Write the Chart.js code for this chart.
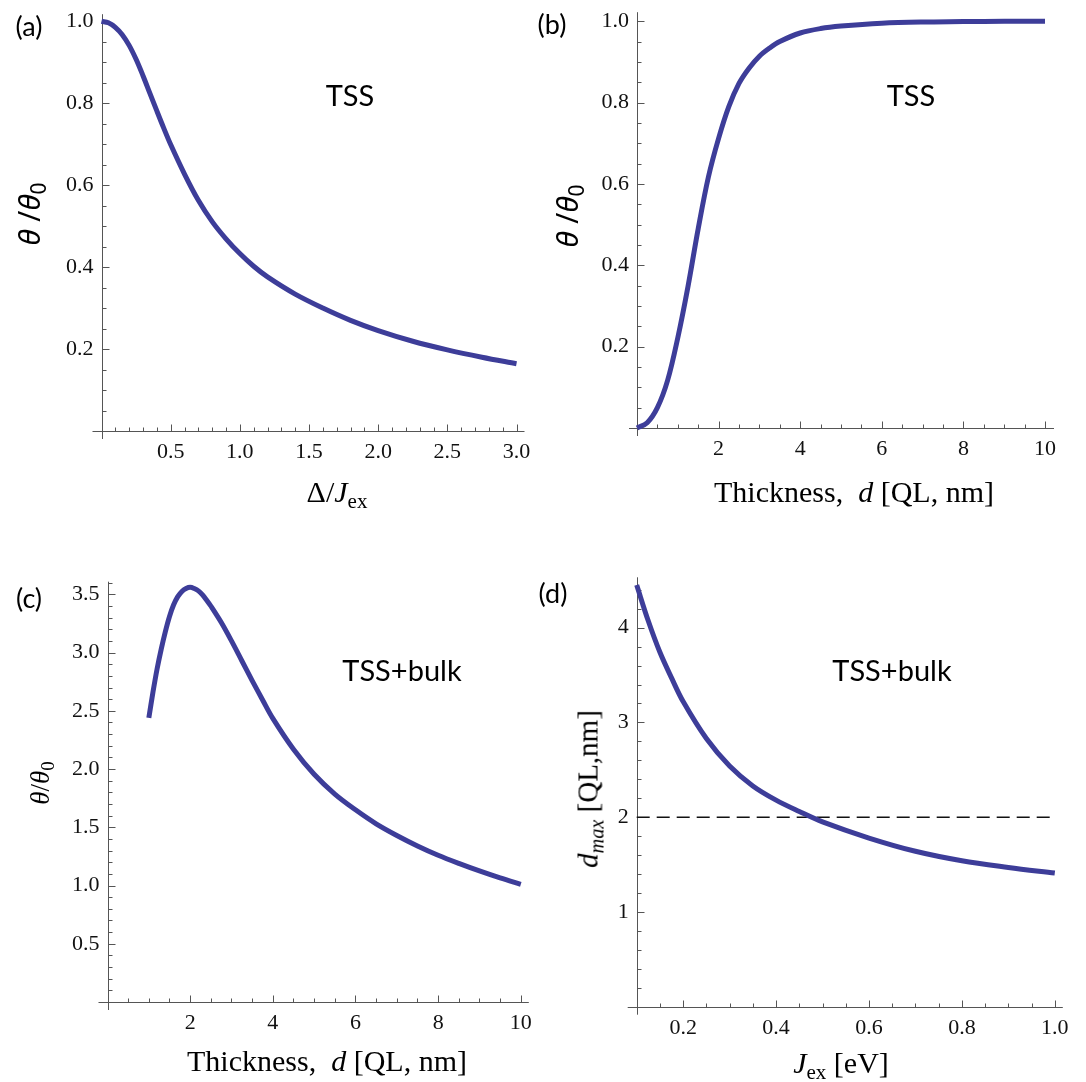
<!DOCTYPE html>
<html><head><meta charset="utf-8">
<script src="https://cdn.jsdelivr.net/npm/chart.js@4.4.0/dist/chart.umd.min.js"></script>
<style>
html,body{margin:0;padding:0;background:#fff;}
#wrap{position:relative;width:1086px;height:1082px;overflow:hidden;background:#fff;}
canvas{position:absolute;left:0;top:0;}
.t{position:absolute;transform:translate(-50%,-50%);white-space:nowrap;color:#000;line-height:1;}
.serif{font-family:"Liberation Serif","Times New Roman",serif;}
.sans{font-family:Lato,"Noto Sans",sans-serif;}
.nsans{font-family:"Noto Sans",sans-serif;}
.rot{transform:translate(-50%,-50%) rotate(-90deg);}
sub{font-size:0.7em;vertical-align:-0.3em;line-height:0;}
</style></head>
<body><div id="wrap">
<canvas id="ca" width="1086" height="1082"></canvas>
<canvas id="cb" width="1086" height="1082"></canvas>
<canvas id="cc" width="1086" height="1082"></canvas>
<canvas id="cd" width="1086" height="1082"></canvas>

<div class="t sans" style="left:29px;top:25px;font-size:27px;">(a)</div>
<div class="t sans" style="left:552px;top:23px;font-size:27px;">(b)</div>
<div class="t sans" style="left:29px;top:597px;font-size:27px;">(c)</div>
<div class="t sans" style="left:553px;top:592px;font-size:27px;">(d)</div>

<div class="t sans" style="left:350px;top:94px;font-size:29px;">TSS</div>
<div class="t sans" style="left:911px;top:94px;font-size:29px;">TSS</div>
<div class="t sans" style="left:402px;top:669px;font-size:29px;">TSS+bulk</div>
<div class="t sans" style="left:892px;top:669px;font-size:29px;">TSS+bulk</div>

<div class="t nsans rot" style="left:29px;top:214px;font-size:30px;"><i>θ</i> /<i>θ</i><sub>0</sub></div>
<div class="t nsans rot" style="left:567px;top:216px;font-size:30px;"><i>θ</i> /<i>θ</i><sub>0</sub></div>
<div class="t serif rot" style="left:40px;top:783px;font-size:27px;"><i>θ</i>/<i>θ</i><sub>0</sub></div>
<div class="t serif rot" style="left:588px;top:789px;font-size:29px;"><i>d<sub>max</sub></i> [QL,nm]</div>

<div class="t serif" style="left:337px;top:492px;font-size:30px;">Δ/<i>J</i><sub>ex</sub></div>
<div class="t serif" style="left:854px;top:492px;font-size:30px;">Thickness,&nbsp; <i>d</i> [QL, nm]</div>
<div class="t serif" style="left:327px;top:1061px;font-size:30px;">Thickness,&nbsp; <i>d</i> [QL, nm]</div>
<div class="t serif" style="left:841px;top:1063px;font-size:30px;"><i>J</i><sub>ex</sub> [eV]</div>
</div>
<script>
// ---- data ----
const aX = [0, 0.05, 0.1, 0.15, 0.2, 0.25, 0.3, 0.35, 0.4, 0.45, 0.5, 0.6, 0.7, 0.8, 0.9, 1.0, 1.1, 1.2, 1.4, 1.6, 1.8, 2.0, 2.25, 2.5, 2.75, 3.0];
const aY = [1.0, 0.996, 0.985, 0.967, 0.941, 0.907, 0.867, 0.824, 0.781, 0.739, 0.699, 0.627, 0.563, 0.511, 0.469, 0.433, 0.402, 0.376, 0.334, 0.300, 0.270, 0.245, 0.219, 0.198, 0.180, 0.164];

const bX = [0, 0.25, 0.5, 0.75, 1.0, 1.25, 1.5, 1.75, 2.0, 2.25, 2.5, 2.75, 3.0, 3.25, 3.5, 4.0, 4.5, 5.0, 6.0, 7.0, 8.0, 9.0, 10.0];
const bY = [0, 0.013, 0.05, 0.117, 0.222, 0.348, 0.49, 0.617, 0.712, 0.79, 0.847, 0.885, 0.914, 0.934, 0.95, 0.971, 0.982, 0.988, 0.995, 0.998, 0.999, 1.0, 1.0];

const cX = [1.0, 1.1, 1.2, 1.3, 1.4, 1.5, 1.6, 1.7, 1.8, 1.9, 2.0, 2.1, 2.2, 2.3, 2.4, 2.5, 2.75, 3.0, 3.25, 3.5, 3.75, 4.0, 4.5, 5.0, 5.5, 6.0, 6.5, 7.0, 7.5, 8.0, 8.5, 9.0, 9.5, 10.0];
const cY = [2.44, 2.66, 2.86, 3.03, 3.18, 3.31, 3.41, 3.48, 3.525, 3.55, 3.56, 3.55, 3.53, 3.495, 3.45, 3.40, 3.26, 3.10, 2.93, 2.76, 2.595, 2.435, 2.17, 1.955, 1.785, 1.65, 1.53, 1.43, 1.34, 1.26, 1.19, 1.125, 1.065, 1.01];

const dX = [0.1, 0.125, 0.15, 0.175, 0.2, 0.25, 0.3, 0.35, 0.4, 0.45, 0.5, 0.6, 0.7, 0.8, 0.9, 1.0];
const dY = [4.45, 4.07, 3.74, 3.47, 3.22, 2.83, 2.54, 2.33, 2.18, 2.06, 1.95, 1.78, 1.64, 1.54, 1.47, 1.41];
const dRefValue = 2;

// tick labels
const aXTicks = [0.5, 1.0, 1.5, 2.0, 2.5, 3.0];
const aYTicks = [0.2, 0.4, 0.6, 0.8, 1.0];
const bXTicks = [2, 4, 6, 8, 10];
const bYTicks = [0.2, 0.4, 0.6, 0.8, 1.0];
const cXTicks = [2, 4, 6, 8, 10];
const cYTicks = [0.5, 1.0, 1.5, 2.0, 2.5, 3.0, 3.5];
const dXTicks = [0.2, 0.4, 0.6, 0.8, 1.0];
const dYTicks = [1, 2, 3, 4];

// ---- styling / layout ----
const W = 1086, H = 1082, YW = 60, XH = 40;
const CURVE = '#3d3d99';
const AXIS = '#555';
const TICKFONT = {family: '"Liberation Serif", "Times New Roman", serif', size: 22};

const axesPlugin = {
  id: 'mmaAxes',
  beforeDatasetsDraw(chart, args, o) {
    const {ctx, chartArea: a, scales: {x, y}} = chart;
    const e = o.ext;
    ctx.save();
    ctx.strokeStyle = AXIS;
    ctx.lineWidth = 1;
    ctx.beginPath();
    const yb = Math.round(a.bottom) + 0.5, xl = Math.round(a.left) + 0.5;
    ctx.moveTo(a.left - e.l, yb); ctx.lineTo(a.right + e.r, yb);
    ctx.moveTo(xl, a.bottom + e.b); ctx.lineTo(xl, a.top - e.t);
    const near = (v, arr) => arr.some(t => Math.abs(t - v) < 1e-6);
    const [x0, x1] = [x.min, x.max];
    for (let k = 1; x0 + k * o.xMinor <= x1 + 1e-9; k++) {
      const v = x0 + k * o.xMinor;
      const len = near(v, o.xt) ? 7 : 4;
      const px = Math.round(x.getPixelForValue(v)) + 0.5;
      ctx.moveTo(px, yb); ctx.lineTo(px, yb - len);
    }
    const [y0, y1] = [y.min, y.max];
    for (let k = 1; y0 + k * o.yMinor <= y1 + 1e-9; k++) {
      const v = y0 + k * o.yMinor;
      const len = near(v, o.yt) ? 7 : 4;
      const py = Math.round(y.getPixelForValue(v)) + 0.5;
      ctx.moveTo(xl, py); ctx.lineTo(xl + len, py);
    }
    ctx.stroke();
    ctx.restore();
  }
};

const panels = [
  {id: 'ca', xs: aX, ys: aY, xr: [0, 3], yr: [0, 1], box: [101.5, 516.5, 15, 431], xt: aXTicks, yt: aYTicks, xd: 1, yd: 1, xMinor: 0.1, yMinor: 0.05, ext: {l: 9, r: 8, t: 7, b: 8}},
  {id: 'cb', xs: bX, ys: bY, xr: [0, 10], yr: [0, 1], box: [637, 1045, 19, 428], xt: bXTicks, yt: bYTicks, xd: 0, yd: 1, xMinor: 0.5, yMinor: 0.05, ext: {l: 8, r: 9, t: 9, b: 8}},
  {id: 'cc', xs: cX, ys: cY, xr: [0, 10], yr: [0, 3.6], box: [107.5, 520.8, 582.7, 1002], xt: cXTicks, yt: cYTicks, xd: 0, yd: 1, xMinor: 0.5, yMinor: 0.1, ext: {l: 9, r: 8, t: 1, b: 8}},
  {id: 'cd', xs: dX, ys: dY, xr: [0.1, 1.0], yr: [0, 4.5], box: [636.7, 1054.8, 580.3, 1006.7], xt: dXTicks, yt: dYTicks, xd: 1, yd: 0, xMinor: 0.05, yMinor: 0.2, ext: {l: 9, r: 8, t: 3, b: 8}, ref: dRefValue}
];

panels.forEach(p => {
  const datasets = [{
    data: p.xs.map((x, i) => ({x, y: p.ys[i]})),
    borderColor: CURVE, borderWidth: 5, pointRadius: 0,
    tension: 0.35, fill: false, clip: false,
    borderCapStyle: 'butt', borderJoinStyle: 'round'
  }];
  if (p.ref !== undefined) {
    datasets.push({
      data: [{x: p.xr[0], y: p.ref}, {x: p.xr[1], y: p.ref}],
      borderColor: '#111', borderWidth: 1.6, borderDash: [13, 7], pointRadius: 0, fill: false, clip: false
    });
  }
  new Chart(document.getElementById(p.id), {
    type: 'line',
    data: {datasets},
    options: {
      responsive: false, animation: false,
      layout: {padding: {left: p.box[0] - YW, right: W - p.box[1], top: p.box[2], bottom: H - p.box[3] - XH}},
      plugins: {legend: {display: false}, tooltip: {enabled: false},
        mmaAxes: {ext: p.ext, xMinor: p.xMinor, yMinor: p.yMinor, xt: p.xt, yt: p.yt}},
      scales: {
        x: {
          type: 'linear', min: p.xr[0], max: p.xr[1],
          grid: {display: false, drawTicks: false}, border: {display: false},
          ticks: {padding: 8, font: TICKFONT, color: '#111', maxRotation: 0, autoSkip: false,
            callback: v => v.toFixed(p.xd)},
          afterBuildTicks: s => { s.ticks = p.xt.map(v => ({value: v})); },
          afterFit: s => { s.height = XH; }
        },
        y: {
          type: 'linear', min: p.yr[0], max: p.yr[1],
          grid: {display: false, drawTicks: false}, border: {display: false},
          ticks: {padding: 8, font: TICKFONT, color: '#111', autoSkip: false,
            callback: v => v.toFixed(p.yd)},
          afterBuildTicks: s => { s.ticks = p.yt.map(v => ({value: v})); },
          afterFit: s => { s.width = YW; }
        }
      }
    },
    plugins: [axesPlugin]
  });
});
</script>
</body></html>
